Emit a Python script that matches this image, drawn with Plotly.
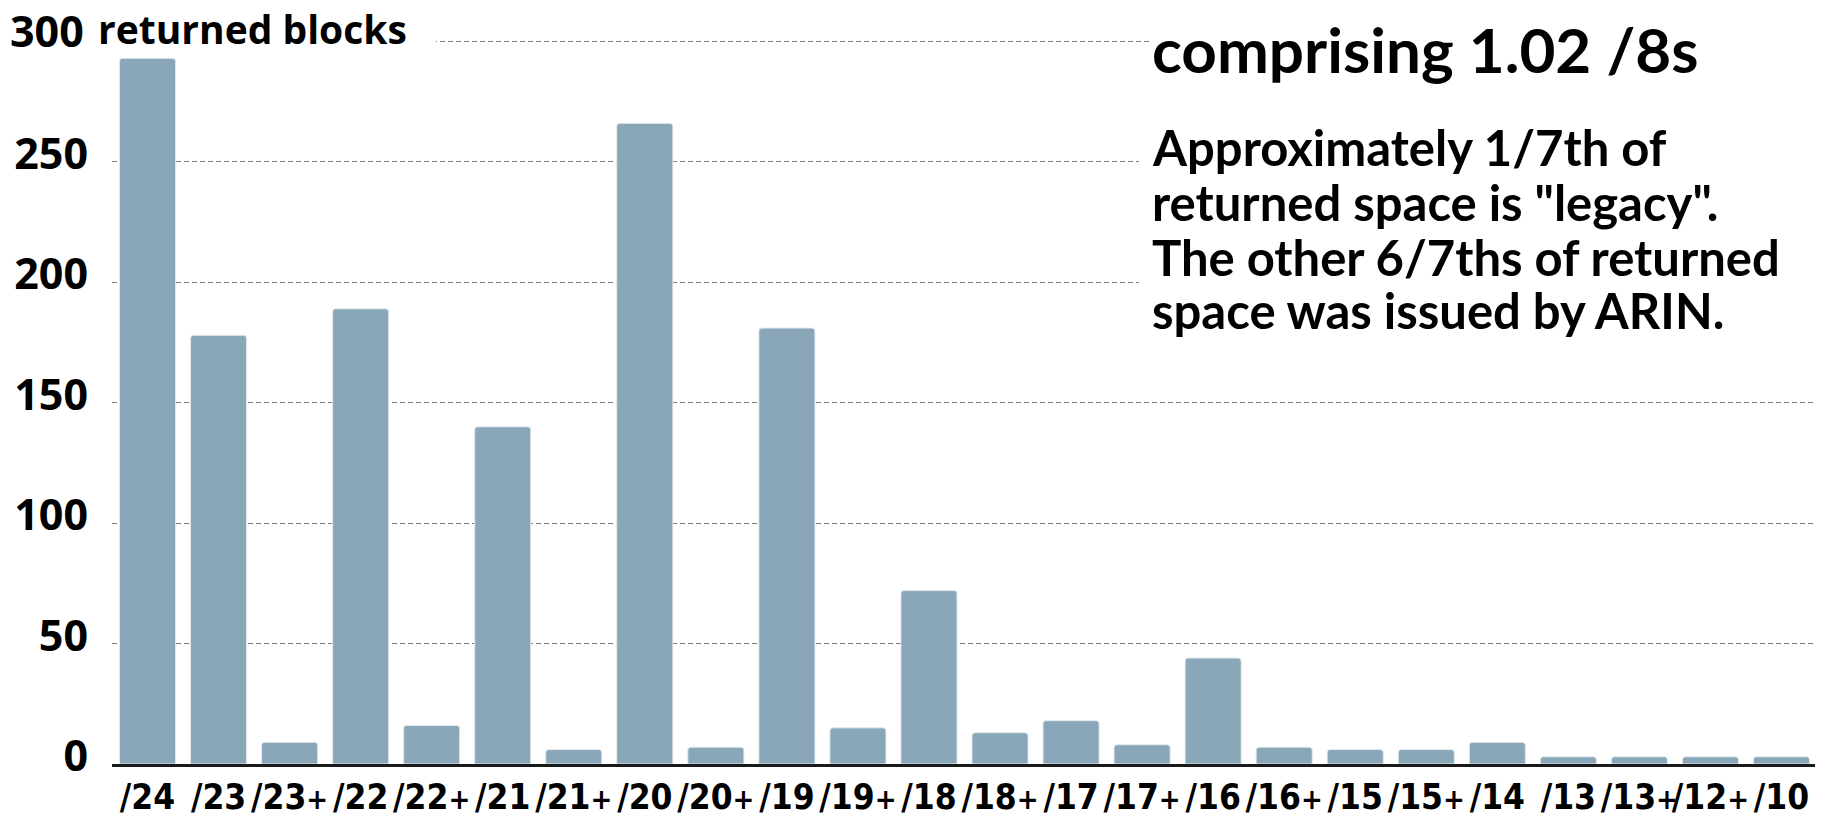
import plotly.graph_objects as go

categories = ["/24", "/23", "/23+", "/22", "/22+", "/21", "/21+", "/20", "/20+", "/19",
              "/19+", "/18", "/18+", "/17", "/17+", "/16", "/16+", "/15", "/15+", "/14",
              "/13", "/13+", "/12+", "/10"]
returned_blocks = [293, 178, 9, 189, 16, 140, 6, 266, 7, 181,
                   15, 72, 13, 18, 8, 44, 7, 6, 6, 9,
                   3, 3, 3, 3]
y_tick_vals = [0, 50, 100, 150, 200, 250, 300]
y_tick_text = ["0", "50", "100", "150", "200", "250", ""]
top_tick_text = "300"
y_axis_title = "returned blocks"
title_line = "comprising 1.02 /8s"
note_lines = ["Approximately 1/7th of",
              "returned space is \"legacy\".",
              "The other 6/7ths of returned",
              "space was issued by ARIN."]

# page has an 8px body margin; work in page coordinates and convert
OFF = 8
W, H = 1823 - OFF, 815 - OFF
PLOT_LEFT, PLOT_RIGHT = 112 - OFF, 1817 - OFF
Y0_PX, Y300_PX = 764 - OFF, 41 - OFF
YTOP = 301.0
PH_F = (Y0_PX - Y300_PX) * YTOP / 300.0
MT = Y0_PX - PH_F
ML, MR, MB = PLOT_LEFT, W - PLOT_RIGHT, H - Y0_PX
PW = PLOT_RIGHT - PLOT_LEFT


def px_x(x):
    return (x - OFF - ML) / PW


def px_y(y):
    return (Y0_PX - (y - OFF)) / PH_F


BAR = "#8AA7B9"
LABEL_FONT = "Open Sans, Lato, sans-serif"
TITLE_FONT = "Lato, Open Sans, sans-serif"
COND_FONT = "Liberation Sans Narrow, DejaVu Sans Condensed, Liberation Sans, Arial, sans-serif"

# x tick labels: slightly narrower "+" sign, like the condensed face of the original
x_tick_text = [c.replace("+", "<span style='font-size:29px'>+</span>") for c in categories]

fig = go.Figure(go.Bar(
    x=categories, y=returned_blocks,
    marker=dict(color=BAR, line=dict(color="#E4EBEF", width=1), cornerradius=3),
    hoverinfo="x+y",
))

shapes = [
    dict(type="rect", xref="paper", yref="paper", x0=0, x1=px_x(436),
         y0=px_y(56), y1=px_y(24), fillcolor="white", line=dict(width=0), layer="above"),
    dict(type="rect", xref="paper", yref="paper", x0=px_x(1149), x1=1.01,
         y0=px_y(100), y1=px_y(10), fillcolor="white", line=dict(width=0), layer="above"),
    dict(type="rect", xref="paper", yref="paper", x0=px_x(1139), x1=1.01,
         y0=px_y(340), y1=px_y(100), fillcolor="white", line=dict(width=0), layer="above"),
]

annotations = [
    dict(text=top_tick_text, xref="paper", yref="paper", x=px_x(86), y=px_y(30),
         xanchor="right", yanchor="middle", showarrow=False,
         font=dict(family=LABEL_FONT, size=43, color="black", weight="bold")),
    dict(text=y_axis_title, xref="paper", yref="paper", x=px_x(96), y=px_y(28),
         xanchor="left", yanchor="middle", showarrow=False,
         font=dict(family=LABEL_FONT, size=39, color="black", weight="bold")),
    dict(text=title_line, xref="paper", yref="paper", x=px_x(1150), y=px_y(49),
         xanchor="left", yanchor="middle", showarrow=False,
         font=dict(family=TITLE_FONT, size=62, color="black", weight="bold")),
]
note_centers = [147, 202, 257, 310]
for line, yc in zip(note_lines, note_centers):
    annotations.append(dict(text=line, xref="paper", yref="paper", x=px_x(1150), y=px_y(yc),
                            xanchor="left", yanchor="middle", showarrow=False,
                            font=dict(family=TITLE_FONT, size=49, color="black", weight="bold")))

fig.update_layout(
    width=W, height=H,
    margin=dict(l=ML, r=MR, t=MT, b=MB, autoexpand=False),
    plot_bgcolor="white", paper_bgcolor="white",
    bargap=0.21,
    showlegend=False,
    shapes=shapes,
    annotations=annotations,
    xaxis=dict(
        type="category", showgrid=False, showline=True, linecolor="#1a1a1a", linewidth=3,
        ticks="", tickangle=0, tickmode="array", tickvals=categories, ticktext=x_tick_text,
        tickfont=dict(family=COND_FONT, size=35, color="black", weight="bold"),
        ticklabelstandoff=0, automargin=False, range=[-0.5, len(categories) - 0.5],
    ),
    yaxis=dict(
        range=[0, YTOP], tickvals=y_tick_vals, ticktext=y_tick_text,
        showgrid=True, gridcolor="#7c7c7c", gridwidth=1, griddash="5px,3px",
        zeroline=False, showline=False, ticks="",
        tickfont=dict(family=LABEL_FONT, size=43, color="black", weight="bold"),
        ticklabelstandoff=23, ticklabelshift=-8, automargin=False,
    ),
)

fig.write_html("out.html")
